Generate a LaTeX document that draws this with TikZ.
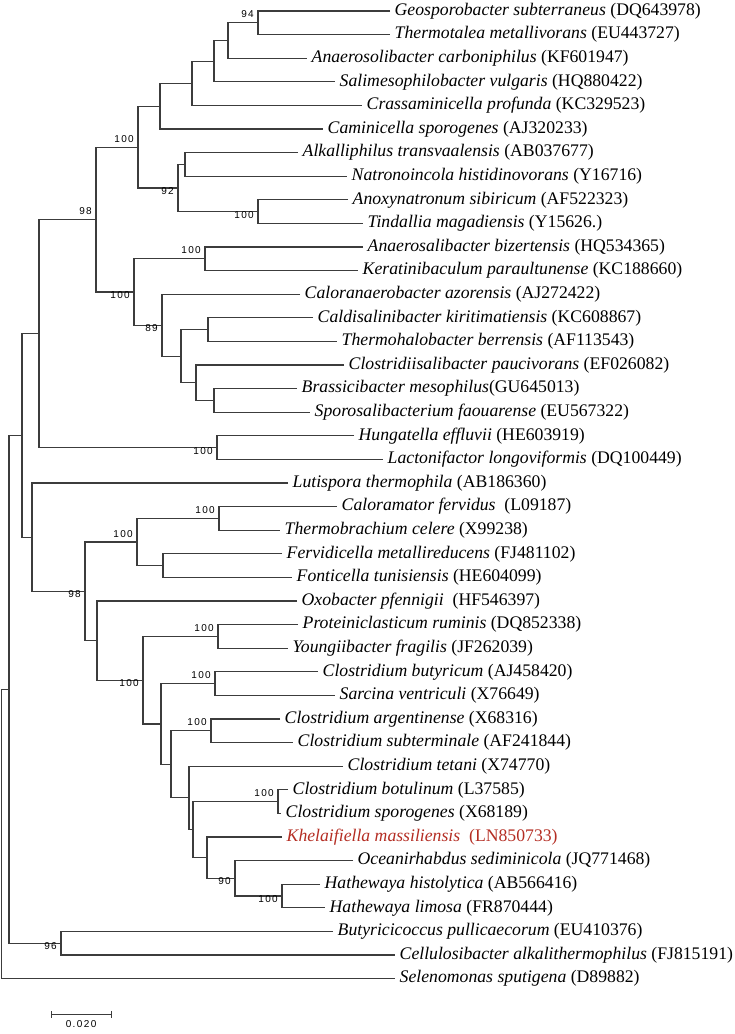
\documentclass[tikz,border=0pt]{standalone}
\usepackage{fontspec}
\setmainfont{Liberation Serif}
\newfontfamily\bootfont[LetterSpace=14]{Liberation Sans}
\usepackage{tikz}
\usetikzlibrary{positioning, arrows.meta, calc}
\definecolor{branchgray}{RGB}{60,60,60}
\definecolor{newspecies}{RGB}{180,45,35}

% clade: name, x of the node, upper child, lower child
\newcommand{\clade}[4]{%
    \coordinate (#1-mid) at ($(#3)!0.5!(#4)$);
    \coordinate (#1) at (#2,0 |- #1-mid);
    \draw[branch] (#3) -- (#1 |- #3) -- (#1 |- #4) -- (#4);
}

\begin{document}
\begin{tikzpicture}[x=1pt, y=-1pt,
    branch/.style={draw=branchgray, line width=1.05pt, line join=miter},
    taxon/.style={anchor=west, inner xsep=4.5pt, inner ysep=0pt,
        font=\fontsize{17.7}{20}\selectfont},
    bsup/.style={anchor=east, inner sep=0pt, xshift=-4pt, yshift=8.3pt,
        font=\bootfont\fontsize{10}{12}\selectfont},
    bsdown/.style={bsup, yshift=-11.3pt},
    scaletext/.style={inner sep=0pt, font=\bootfont\fontsize{10}{12}\selectfont}]

    \useasboundingbox (0,0) rectangle (735,1034);

    % ===== Tips =====
    \node[taxon] (t1)  at (390,11)    {{\itshape Geosporobacter subterraneus} (DQ643978)};
    \node[taxon] (t2)  at (390,34.6)  {{\itshape Thermotalea metallivorans} (EU443727)};
    \node[taxon] (t3)  at (307,58.2)  {{\itshape Anaerosolibacter carboniphilus} (KF601947)};
    \node[taxon] (t4)  at (335,81.8)  {{\itshape Salimesophilobacter vulgaris} (HQ880422)};
    \node[taxon] (t5)  at (362,105.4) {{\itshape Crassaminicella profunda} (KC329523)};
    \node[taxon] (t6)  at (323,129)   {{\itshape Caminicella sporogenes} (AJ320233)};
    \node[taxon] (t7)  at (298,152.6) {{\itshape Alkalliphilus transvaalensis} (AB037677)};
    \node[taxon] (t8)  at (347,176.2) {{\itshape Natronoincola histidinovorans} (Y16716)};
    \node[taxon] (t9)  at (348,199.8) {{\itshape Anoxynatronum sibiricum} (AF522323)};
    \node[taxon] (t10) at (363,223.4) {{\itshape Tindallia magadiensis} (Y15626.)};
    \node[taxon] (t11) at (363,247)   {{\itshape Anaerosalibacter bizertensis} (HQ534365)};
    \node[taxon] (t12) at (358,270.6) {{\itshape Keratinibaculum paraultunense} (KC188660)};
    \node[taxon] (t13) at (300,294.2) {{\itshape Caloranaerobacter azorensis} (AJ272422)};
    \node[taxon] (t14) at (313,317.8) {{\itshape Caldisalinibacter kiritimatiensis} (KC608867)};
    \node[taxon] (t15) at (337,341.4) {{\itshape Thermohalobacter berrensis} (AF113543)};
    \node[taxon] (t16) at (344,365)   {{\itshape Clostridiisalibacter paucivorans} (EF026082)};
    \node[taxon] (t17) at (297,388.6) {{\itshape Brassicibacter mesophilus}(GU645013)};
    \node[taxon] (t18) at (310,412.2) {{\itshape Sporosalibacterium faouarense} (EU567322)};
    \node[taxon] (t19) at (354,435.8) {{\itshape Hungatella effluvii} (HE603919)};
    \node[taxon] (t20) at (383,459.4) {{\itshape Lactonifactor longoviformis} (DQ100449)};
    \node[taxon] (t21) at (288,483)   {{\itshape Lutispora thermophila} (AB186360)};
    \node[taxon] (t22) at (337,506.6) {{\itshape Caloramator fervidus}\ \ (L09187)};
    \node[taxon] (t23) at (280,530.2) {{\itshape Thermobrachium celere} (X99238)};
    \node[taxon] (t24) at (282,553.8) {{\itshape Fervidicella metallireducens} (FJ481102)};
    \node[taxon] (t25) at (292,577.4) {{\itshape Fonticella tunisiensis} (HE604099)};
    \node[taxon] (t26) at (297,601)   {{\itshape Oxobacter pfennigii}\ \ (HF546397)};
    \node[taxon] (t27) at (298,624.6) {{\itshape Proteiniclasticum ruminis} (DQ852338)};
    \node[taxon] (t28) at (288,648.2) {{\itshape Youngiibacter fragilis} (JF262039)};
    \node[taxon] (t29) at (318,671.8) {{\itshape Clostridium butyricum} (AJ458420)};
    \node[taxon] (t30) at (335,695.4) {{\itshape Sarcina ventriculi} (X76649)};
    \node[taxon] (t31) at (280,719)   {{\itshape Clostridium argentinense} (X68316)};
    \node[taxon] (t32) at (293,742.6) {{\itshape Clostridium subterminale} (AF241844)};
    \node[taxon] (t33) at (343,766.2) {{\itshape Clostridium tetani} (X74770)};
    \node[taxon] (t34) at (288,789.8) {{\itshape Clostridium botulinum} (L37585)};
    \node[taxon] (t35) at (281,813.4) {{\itshape Clostridium sporogenes} (X68189)};
    \node[taxon, text=newspecies] (t36) at (282,837) {{\itshape Khelaifiella massiliensis}\ \ (LN850733)};
    \node[taxon] (t37) at (353,860.6) {{\itshape Oceanirhabdus sediminicola} (JQ771468)};
    \node[taxon] (t38) at (320,884.2) {{\itshape Hathewaya histolytica} (AB566416)};
    \node[taxon] (t39) at (325,907.8) {{\itshape Hathewaya limosa} (FR870444)};
    \node[taxon] (t40) at (333,931.4) {{\itshape Butyricicoccus pullicaecorum} (EU410376)};
    \node[taxon] (t41) at (395,955)   {{\itshape Cellulosibacter alkalithermophilus} (FJ815191)};
    \node[taxon] (t42) at (395,978.6) {{\itshape Selenomonas sputigena} (D89882)};

    % ===== Upper clade =====
    \clade{A}{258}{t1}{t2}
    \clade{B}{228}{A}{t3}
    \clade{C}{214}{B}{t4}
    \clade{D}{192}{C}{t5}
    \clade{E}{160}{D}{t6}
    \clade{H}{185}{t7}{t8}
    \clade{I}{258}{t9}{t10}
    \clade{J}{178}{H}{I}
    \clade{F}{138}{E}{J}
    \clade{L}{205}{t11}{t12}
    \clade{O}{208}{t14}{t15}
    \clade{Q}{214}{t17}{t18}
    \clade{P}{196}{t16}{Q}
    \clade{N}{181}{O}{P}
    \clade{M}{162}{t13}{N}
    \clade{K}{134}{L}{M}
    \clade{G}{96}{F}{K}
    \clade{R}{217}{t19}{t20}
    \clade{S}{39}{G}{R}

    % ===== Lower clade =====
    \clade{X}{219}{t22}{t23}
    \clade{Y}{163}{t24}{t25}
    \clade{W}{137}{X}{Y}
    \clade{AB}{218}{t27}{t28}
    \clade{AD}{215}{t29}{t30}
    \clade{AF}{211}{t31}{t32}
    \clade{AI}{278}{t34}{t35}
    \clade{AL}{282}{t38}{t39}
    \clade{AK}{235}{t37}{AL}
    \clade{AJ}{207}{t36}{AK}
    \clade{AH}{193}{AI}{AJ}
    \clade{AG}{189}{t33}{AH}
    \clade{AE}{171}{AF}{AG}
    \clade{AC}{161}{AD}{AE}
    \clade{AA}{143}{AB}{AC}
    \clade{Z}{97}{t26}{AA}
    \clade{V}{85}{W}{Z}
    \clade{U}{32}{t21}{V}
    \clade{T}{22}{S}{U}

    % ===== Outgroups and root =====
    \clade{AM}{61}{t40}{t41}
    \clade{AN}{9}{T}{AM}
    \clade{root}{1.5}{AN}{t42}

    % ===== Bootstrap values =====
    \node[bsup]   (bA)  at (A)  {94};
    \node[bsup]   (bF)  at (F)  {100};
    \node[bsdown] (bI)  at (I)  {100};
    \node[bsdown] (bJ)  at (J)  {92};
    \node[bsup]   (bG)  at (G)  {98};
    \node[bsup]   (bL)  at (L)  {100};
    \node[bsdown] (bK)  at (K)  {100};
    \node[bsdown] (bM)  at (M)  {89};
    \node[bsdown] (bR)  at (R)  {100};
    \node[bsup]   (bX)  at (X)  {100};
    \node[bsup]   (bW)  at (W)  {100};
    \node[bsdown] (bV)  at (V)  {98};
    \node[bsup]   (bAB) at (AB) {100};
    \node[bsdown] (bAA) at (AA) {100};
    \node[bsup]   (bAD) at (AD) {100};
    \node[bsup]   (bAF) at (AF) {100};
    \node[bsup]   (bAI) at (AI) {100};
    \node[bsdown] (bAK) at (AK) {90};
    \node[bsdown] (bAL) at (AL) {100};
    \node[bsdown] (bAM) at (AM) {96};

    % ===== Scale bar =====
    \coordinate (sbleft) at (50.5,1014.3);
    \coordinate (sbright) at (111.7,1014.3);
    \coordinate (sbmid) at ($(sbleft)!0.5!(sbright)$);
    \draw[branch, {Bar[width=7pt]}-{Bar[width=7pt]}] (sbleft) -- (sbright);
    \node[scaletext, below=6pt of sbmid] (sblabel) {0.020};

\end{tikzpicture}
\end{document}
